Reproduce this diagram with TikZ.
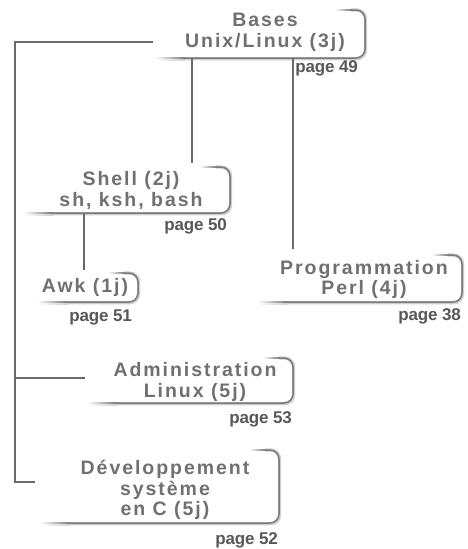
\documentclass[tikz,border=0pt]{standalone}
\usepackage{fontspec}
\setmainfont{Liberation Sans}
\newfontfamily\boxfont{Liberation Sans}[LetterSpace=10]
\newfontfamily\pagefont{Liberation Sans}[LetterSpace=-1]
\definecolor{tc}{HTML}{707070}
\definecolor{pc}{HTML}{585858}
\definecolor{lc}{HTML}{6A6A6A}
\definecolor{ec}{HTML}{7A7A7A}
\definecolor{sc}{HTML}{CFCFCF}
\tikzset{
  boxtext/.style={align=center,inner sep=0pt,text=tc,font=\boxfont\bfseries\fontsize{19.5}{20.5}\selectfont},
  pagetext/.style={anchor=east,inner sep=0pt,text=pc,font=\pagefont\bfseries\fontsize{17}{18}\selectfont},
  conn/.style={draw=lc,line width=1.4pt},
  edgeshadow/.style={draw=sc,line width=3.2pt,rounded corners=9pt},
  edgeline/.style={draw=ec,line width=1.5pt,rounded corners=9pt},
}
% #1 L, #2 T, #3 R, #4 B
\newcommand\frm[4]{%
  \shade[left color=white,right color=sc] (#1,#4+0.4) rectangle (#1+30,#4+2.2);
  \shade[left color=white,right color=ec] (#1,#4-0.75) rectangle (#1+30,#4+0.75);
  \path[edgeshadow] (#1+30,#4+0.8) -- (#3+0.6,#4+0.8) -- (#3+0.6,#2) -- (#3-14,#2);
  \path[edgeline] (#1+30,#4) -- (#3,#4) -- (#3,#2) -- (#3-14,#2);
  \shade[left color=white,right color=ec] (#3-30,#2-0.75) rectangle (#3-13.5,#2+0.75);
}
\begin{document}
\begin{tikzpicture}[x=1pt,y=-1pt]
\useasboundingbox (0,0) rectangle (467,549);
\fill[white] (0,0) rectangle (467,549);

% box frames
\frm{155}{10}{365}{58}
\frm{23}{167}{230}{213}
\frm{37}{273}{138}{302}
\frm{257}{255}{462}{302}
\frm{87}{358}{293}{403}
\frm{40}{450}{279}{523}

% texts
\node[boxtext] (bases) at (265,32.5) {Bases\\Unix/Linux (3j)};
\node[boxtext] (shell) at (131,190.5) {Shell (2j)\\sh, ksh, bash};
\node[boxtext] (awk) at (85,287) {Awk (1j)};
\node[boxtext] (perl) at (364,279.5) {Programmation\\Perl (4j)};
\node[boxtext] (admin) at (195,382) {Administration\\Linux (5j)};
\node[boxtext] (dev) at (165,490) {Développement\\système\\en C (5j)};

\node[pagetext] (p49) at (358,68) {page 49};
\node[pagetext] (p50) at (227,226) {page 50};
\node[pagetext] (p51) at (132,317) {page 51};
\node[pagetext] (p38) at (461,316) {page 38};
\node[pagetext] (p53) at (292,419) {page 53};
\node[pagetext] (p52) at (278,540) {page 52};

% connector coordinates
\coordinate (tA) at (153,42);
\coordinate (tB) at (15,42);
\coordinate (tC) at (15,378);
\coordinate (tD) at (15,482);
\coordinate (adminL) at (85,378);
\coordinate (devL) at (35,482);
\coordinate (basesS) at (192,58);
\coordinate (shellT) at (192,163);
\coordinate (basesP) at (293,58);
\coordinate (perlT) at (293,249);
\coordinate (shellB) at (84,214);
\coordinate (awkT) at (84,270);

\draw[conn] (tA) -- (tB) -- (tD) -- (devL);
\draw[conn] (tC) -- (adminL);
\draw[conn] (basesS) -- (shellT);
\draw[conn] (basesP) -- (perlT);
\draw[conn] (shellB) -- (awkT);
\end{tikzpicture}
\end{document}
